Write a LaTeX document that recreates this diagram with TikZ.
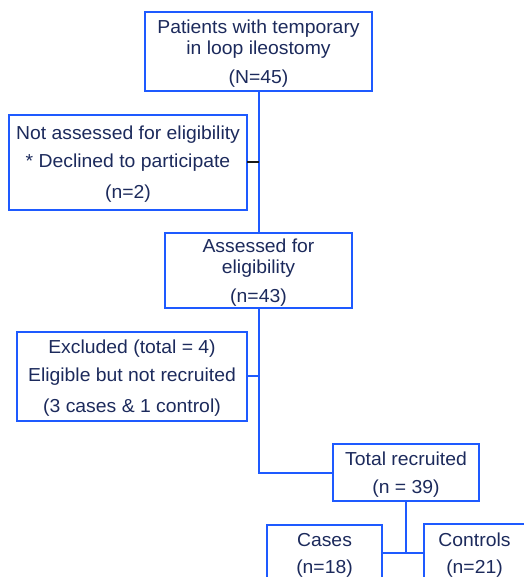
\documentclass[tikz,border=0pt]{standalone}
\usepackage{fontspec}
\setmainfont{Liberation Sans}[FakeStretch=1.03]
\definecolor{boxblue}{RGB}{30,90,255}
\definecolor{txtnavy}{RGB}{28,42,92}
\definecolor{stubblack}{RGB}{25,25,25}
\begin{document}
\begin{tikzpicture}[x=1pt,y=-1pt,
  box/.style={draw=boxblue, line width=2pt, fill=white, inner sep=0pt, outer sep=0pt,
    anchor=north west, align=center, text=txtnavy,
    font=\fontsize{18.8}{21}\selectfont},
  link/.style={draw=boxblue, line width=2pt},
  stub/.style={draw=stubblack, line width=2pt}]
\useasboundingbox[fill=white] (0,0) rectangle (523,577);
\node[box, minimum width=227pt, text height=71.3pt, text depth=7.7pt] (p) at (145,12)
  {Patients with temporary\\in loop ileostomy\\[8pt](N=45)};
\node[box, minimum width=238pt, text height=84pt, text depth=11pt] (na) at (9,115)
  {Not assessed for eligibility\\[7pt]* Declined to participate\\[10pt](n=2)};
\node[box, minimum width=187pt, text height=69.7pt, text depth=5.3pt] (a) at (165,233)
  {Assessed for\\eligibility\\[8.4pt](n=43)};
\node[box, minimum width=230pt, text height=80.7pt, text depth=8pt] (ex) at (17,332)
  {Excluded (total = 4)\\[7.4pt]Eligible but not recruited\\[10pt](3 cases \& 1 control)};
\node[box, minimum width=146pt, text height=49.3pt, text depth=7.7pt] (tr) at (333,444)
  {Total recruited\\[7.3pt](n = 39)};
\node[box, minimum width=115pt, text height=48pt, text depth=22pt] (cs) at (267,525)
  {Cases\\[6pt](n=18)};
\node[box, minimum width=101pt, text height=49pt, text depth=22pt] (ct) at (424,524)
  {Controls\\[6pt](n=21)};
\coordinate (j) at (406,553);
\draw[link] (p.south) -- (a.north);
\draw[stub] (na.east) -- (na.east -| p.south);
\draw[link] (ex.east) -- (ex.east -| a.south);
\draw[link] (a.south) |- (tr.west);
\draw[link] (tr.south) -- (j);
\draw[link] (cs.east |- j) -- (ct.west |- j);
\end{tikzpicture}
\end{document}
